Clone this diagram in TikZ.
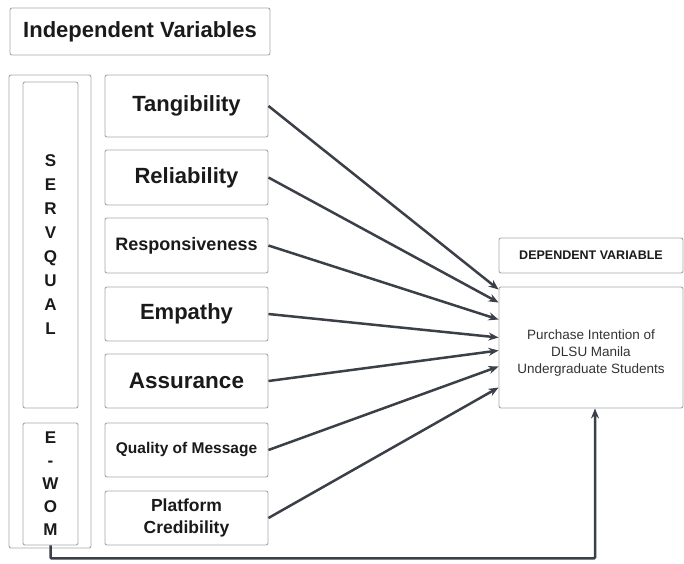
\documentclass[tikz,border=0pt]{standalone}
\usepackage{fontspec}
\setmainfont{Liberation Sans}
\usetikzlibrary{arrows.meta}

\definecolor{boxgray}{HTML}{A3A6AB}
\definecolor{linkgray}{HTML}{3A3F48}
\definecolor{inkblack}{HTML}{1A1A1A}

\newcommand{\fs}[2]{\fontsize{#1}{#2}\selectfont}

\begin{document}
\begin{tikzpicture}[x=1pt, y=-1pt,
	every node/.style={text=inkblack, inner sep=0pt},
	box/.style={draw=boxgray, line width=0.9pt, rounded corners=2pt},
	factor/.style={box, minimum width=163pt, minimum height=54pt, align=center, font=\bfseries\fs{22}{26}},
	link/.style={draw=linkgray, line width=2.5pt, -{Stealth[length=10pt, width=8pt]}}]
	\useasboundingbox (0,0) rectangle (684,563);

	% title and grouping boxes on the left
	\node[box, minimum width=260pt, minimum height=47pt, font=\bfseries\fs{22}{26}] (ivtitle) at (140,31.5) {Independent Variables};
	\node[box, minimum width=82pt, minimum height=473pt] (group) at (50,311.5) {};
	\node[box, minimum width=55pt, minimum height=326pt, align=center, font=\bfseries\fs{17}{24}] (servqual) at (50.5,245) {S\\E\\R\\V\\Q\\U\\A\\L};
	\node[box, minimum width=55pt, minimum height=122pt, align=center, font=\bfseries\fs{17}{23}] (ewom) at (50.5,484) {E\\-\\W\\O\\M};

	% the seven factors
	\node[factor, minimum height=62pt] (tang) at (186.5,106) {Tangibility};
	\node[factor, minimum height=55pt] (rel) at (186.5,177.5) {Reliability};
	\node[factor, minimum height=55pt, font=\bfseries\fs{18}{22}] (resp) at (186.5,245.5) {Responsiveness};
	\node[factor] (emp) at (186.5,314) {Empathy};
	\node[factor, font=\bfseries\fs{22.5}{26}] (assur) at (186.5,381) {Assurance};
	\node[factor, font=\bfseries\fs{15.5}{20}] (qual) at (186.5,450) {Quality of Message};
	\node[factor, font=\bfseries\fs{17.5}{22}] (plat) at (186.5,518) {Platform\\Credibility};

	% dependent side
	\node[box, minimum width=184pt, minimum height=35pt, font=\bfseries\fs{12.5}{15}] (dvtitle) at (591,255.5) {DEPENDENT VARIABLE};
	\node[box, minimum width=184pt, minimum height=121pt, align=center, text=black!80, font=\fs{13.5}{17}] (pi) at (591,347.5) {\mbox{}\\[4pt]Purchase Intention of\\DLSU Manila\\Undergraduate Students};

	% arrows into the purchase intention box
	\draw[link] (tang.east) -- ([yshift=58pt]pi.west);
	\draw[link] (rel.east) -- ([yshift=45pt]pi.west);
	\draw[link] (resp.east) -- ([yshift=28pt]pi.west);
	\draw[link] (emp.east) -- ([yshift=10pt]pi.west);
	\draw[link] (assur.east) -- ([yshift=-3pt]pi.west);
	\draw[link] (qual.east) -- ([yshift=-19pt]pi.west);
	\draw[link] (plat.east) -- ([yshift=-40pt]pi.west);
	\draw[link, rounded corners=1pt] (ewom.south) -- ++(0,13) -| ([xshift=4pt]pi.south);
\end{tikzpicture}
\end{document}
